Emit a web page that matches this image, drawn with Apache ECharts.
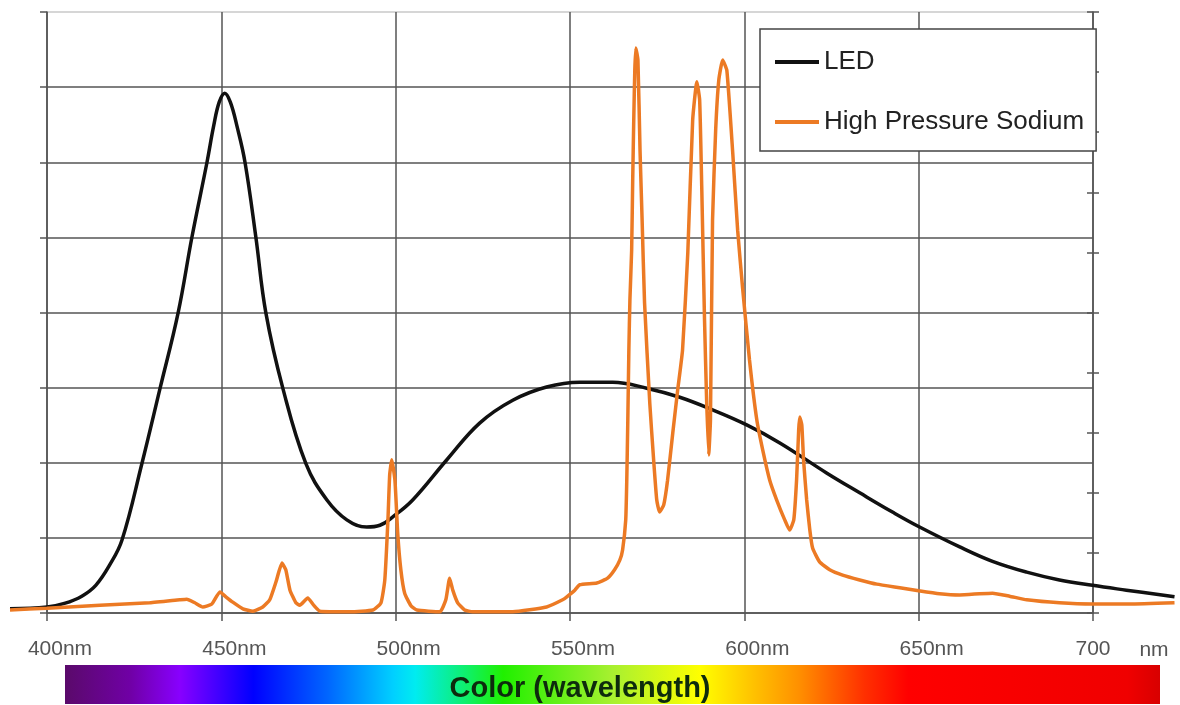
<!DOCTYPE html>
<html>
<head>
<meta charset="utf-8">
<script src="https://cdn.jsdelivr.net/npm/echarts@6/dist/echarts.min.js"></script>
<style>
html,body{margin:0;padding:0;background:#fff;}
#chart{width:1180px;height:705px;}
</style>
</head>
<body>
<div id="chart"></div>
<script>
// Wavelength (nm) and relative intensity (0-100 of plot height)
const ledNm  = [389.4,400,405.0,410.0,414.0,418.0,421.5,427.2,432.4,437.6,441.6,445.9,447.8,449.4,451.0,452.6,454.5,456.8,459.9,462.8,467.7,474.3,480.3,486.0,491.7,495.5,499.2,504.9,514.7,524.1,533.6,543.3,552.8,562.3,572.0,581.5,590.9,600.7,610.2,623.6,633.1,642.5,650.0,661.8,671.2,681.0,690.4,699.9,709.6,723.4];
const ledVal = [0.7,1.0,1.6,2.8,4.6,8.0,12.1,24.8,37.3,49.9,62.6,75.0,81.0,85.0,86.5,85.0,81.0,75.0,62.6,49.9,37.3,24.8,18.8,15.5,14.3,14.6,16.0,18.8,25.5,31.6,35.4,37.6,38.4,38.4,37.4,35.9,33.8,31.3,28.3,23.3,20.0,16.8,14.4,11.0,8.6,6.8,5.5,4.6,3.8,2.7];

const hpsNm  = [389.4,400,415.2,429.5,438.1,440.1,442.4,444.7,447.3,449.6,451.3,453.3,456.2,459.1,461.9,463.9,465.7,467.4,468.5,469.7,471.4,472.5,474.8,476.5,478.3,486.9,493.5,495.8,496.9,497.8,498.3,498.9,499.8,500.6,501.5,502.6,504.4,506.1,512.7,514.4,515.5,516.4,517.8,519.8,522.1,533.6,543.3,547.9,549.1,551.4,552.8,557.7,560.8,562.8,564.3,565.1,566.0,566.3,566.6,566.9,567.2,567.7,568.0,568.3,568.6,568.9,569.5,570.1,570.7,571.4,572.9,574.0,574.9,575.7,576.9,578.0,579.5,580.9,582.3,583.8,585.2,586.4,587.2,587.8,588.6,589.2,589.8,590.3,590.9,591.8,592.7,593.8,595.0,596.7,598.1,599.5,601.5,603.6,605.3,607.3,609.3,611.6,613.0,614.2,615.0,615.6,615.9,616.5,617.0,617.9,618.8,619.6,621.6,624.5,628.2,633.1,638.0,644.6,650.0,656.0,661.8,667.5,671.2,676.1,681.0,690.4,699.9,710.5,723.4];
const hpsVal = [0.5,0.8,1.3,1.7,2.2,2.3,1.7,1.0,1.5,3.5,2.7,1.8,0.7,0.3,1.0,2.2,5.2,8.3,7.2,3.8,1.7,1.3,2.5,1.3,0.3,0.2,0.5,1.7,5.5,15.5,23.0,25.5,22.1,13.3,7.2,3.3,1.2,0.5,0.2,2.2,5.8,3.8,1.7,0.5,0.2,0.2,1.0,2.2,2.7,3.8,4.7,5.0,5.8,7.2,8.8,10.5,15.5,22.1,32.1,43.8,52.1,60.4,72.0,82.0,90.3,94.0,92.0,77.0,65.4,51.6,34.9,25.5,18.8,16.8,18.0,22.1,30.0,37.1,43.8,59.9,82.0,88.4,85.4,70.9,48.8,35.4,26.3,32.1,65.4,80.4,88.7,92.0,90.3,76.5,63.7,54.2,42.1,32.1,27.1,22.1,18.8,15.5,13.8,15.5,22.1,30.4,32.6,31.3,25.5,18.8,13.8,10.8,8.5,7.2,6.3,5.5,4.8,4.2,3.7,3.2,3.0,3.2,3.3,2.8,2.2,1.7,1.5,1.5,1.7];

const seriesNames = ['LED', 'High Pressure Sodium'];
const xTickValues = [400, 450, 500, 550, 600, 650, 700];

const zip = (a, b) => a.map((v, i) => [v, b[i]]);

const chart = echarts.init(document.getElementById('chart'), null, {renderer: 'canvas'});
const gridColor = '#555';
const yLineColors = ['#555','#555','#555','#555','#555','#555','#555','#555','#c8c8c8'];
const FONT = 'Liberation Sans, Arial, sans-serif';

chart.setOption({
  animation: false,
  backgroundColor: '#fff',
  textStyle: {fontFamily: FONT},
  grid: [
    {left: 47, right: 87, top: 12, bottom: 92},
    {left: 10, right: 2, top: 12, bottom: 92}
  ],
  xAxis: [
    {
      type: 'value', gridIndex: 0, min: 400, max: 700, interval: 50,
      axisLine: {show: true, lineStyle: {color: gridColor, width: 1.5}},
      axisTick: {show: true, length: 8, lineStyle: {color: gridColor, width: 1.5}},
      splitLine: {show: true, lineStyle: {color: gridColor, width: 1.5}},
      axisLabel: {
        show: true, margin: 26, color: '#555', fontSize: 21, fontFamily: FONT,
        formatter: v => v === 700 ? '{b|700}' : '{a|' + v + 'nm}',
        rich: {
          a: {fontSize: 21, color: '#555', padding: [0, 0, 0, 26], fontFamily: FONT},
          b: {fontSize: 21, color: '#555', fontFamily: FONT}
        }
      }
    },
    {type: 'value', gridIndex: 1, min: 389.4, max: 724.4, show: false}
  ],
  yAxis: [
    {
      type: 'value', gridIndex: 0, min: 0, max: 8, interval: 1,
      axisLine: {show: true, lineStyle: {color: gridColor, width: 1.5}},
      axisTick: {show: true, length: 7, lineStyle: {color: gridColor, width: 1.5}},
      splitLine: {show: true, lineStyle: {color: yLineColors, width: 1.5}},
      axisLabel: {show: false}
    },
    {
      type: 'value', gridIndex: 0, position: 'right', min: 0, max: 10, interval: 1,
      axisLine: {show: true, lineStyle: {color: gridColor, width: 1.5}},
      axisTick: {show: true, length: 6, lineStyle: {color: gridColor, width: 1.5}},
      splitLine: {show: false}, axisLabel: {show: false}
    },
    {
      type: 'value', gridIndex: 0, position: 'right', min: 0, max: 10, interval: 1,
      axisLine: {show: false},
      axisTick: {show: true, inside: true, length: 6, lineStyle: {color: gridColor, width: 1.5}},
      splitLine: {show: false}, axisLabel: {show: false}
    },
    {type: 'value', gridIndex: 1, min: 0, max: 100, show: false}
  ],
  legend: {
    show: true,
    orient: 'vertical',
    left: 760, top: 29,
    padding: [20, 12, 16, 15],
    itemGap: 34,
    itemWidth: 44, itemHeight: 4,
    icon: 'rect',
    backgroundColor: '#fff',
    borderColor: '#444', borderWidth: 1.5,
    textStyle: {fontSize: 26, color: '#222', fontFamily: FONT},
    data: seriesNames
  },
  series: [
    {
      name: seriesNames[0], type: 'line', xAxisIndex: 1, yAxisIndex: 3,
      data: zip(ledNm, ledVal), showSymbol: false, smooth: 0.4,
      lineStyle: {color: '#111', width: 3.5}, itemStyle: {color: '#111'}, z: 3
    },
    {
      name: seriesNames[1], type: 'line', xAxisIndex: 1, yAxisIndex: 3,
      data: zip(hpsNm, hpsVal), showSymbol: false, smooth: 0.15,
      lineStyle: {color: '#ec7a24', width: 3.5}, itemStyle: {color: '#ec7a24'}, z: 4
    }
  ],
  graphic: [
    {
      type: 'text', x: 1154, y: 650,
      style: {text: 'nm', fill: '#555', font: '21px ' + FONT, align: 'center', verticalAlign: 'middle'}
    },
    {
      type: 'rect', shape: {x: 65, y: 665, width: 1095, height: 39},
      style: {
        fill: new echarts.graphic.LinearGradient(0, 0, 1, 0, [
          {offset: 0.00, color: '#5a0a6a'},
          {offset: 0.06, color: '#7000a6'},
          {offset: 0.105, color: '#8800ff'},
          {offset: 0.172, color: '#0000ff'},
          {offset: 0.24, color: '#0066ff'},
          {offset: 0.30, color: '#00d0ff'},
          {offset: 0.32, color: '#00ecf0'},
          {offset: 0.37, color: '#10f060'},
          {offset: 0.40, color: '#20f000'},
          {offset: 0.50, color: '#a8f030'},
          {offset: 0.58, color: '#ffff00'},
          {offset: 0.63, color: '#ffc000'},
          {offset: 0.67, color: '#ff9000'},
          {offset: 0.73, color: '#ff3000'},
          {offset: 0.77, color: '#ff0000'},
          {offset: 0.97, color: '#f00000'},
          {offset: 1.00, color: '#d80000'}
        ])
      }
    },
    {
      type: 'text', x: 580, y: 689,
      style: {text: 'Color (wavelength)', fill: '#0d2b0d', font: 'bold 29px ' + FONT, align: 'center', verticalAlign: 'middle'}
    }
  ]
});
</script>
</body>
</html>
